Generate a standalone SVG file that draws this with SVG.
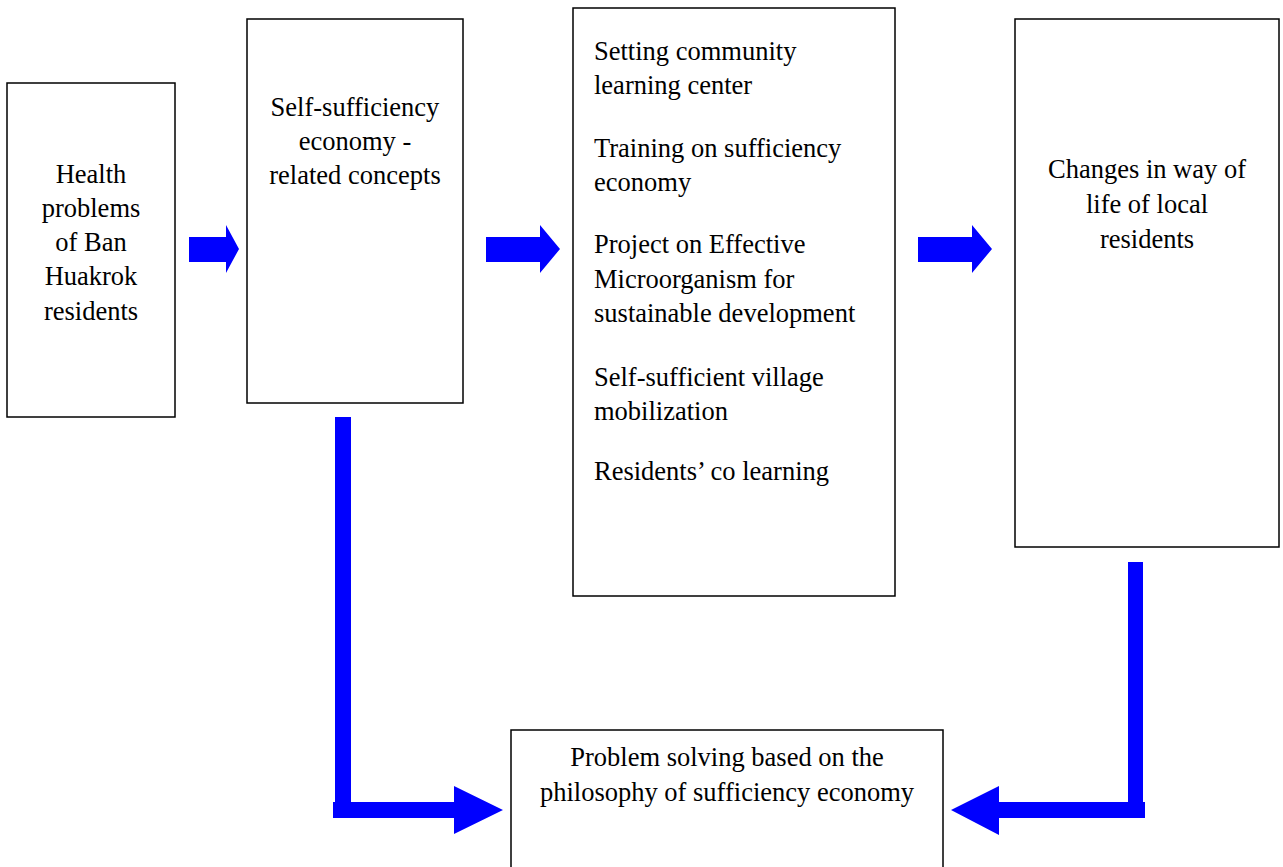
<svg xmlns="http://www.w3.org/2000/svg" width="1283" height="867" viewBox="0 0 1283 867">
<style>
.box{fill:#fff;stroke:#000;stroke-width:1.5}
.t{font-family:"Liberation Serif","Times New Roman",serif;font-size:26.5px;fill:#000}
.c{text-anchor:middle}
.arr{fill:#0000ff}
</style>
<rect width="1283" height="867" fill="#fff"/>
<g id="n1"><rect class="box" x="7" y="83" width="168" height="334"/>
<text class="t c" x="91" y="183">Health</text>
<text class="t c" x="91" y="217">problems</text>
<text class="t c" x="91" y="251">of Ban</text>
<text class="t c" x="91" y="285">Huakrok</text>
<text class="t c" x="91" y="320">residents</text></g>
<g id="n2"><rect class="box" x="247" y="19" width="216" height="384"/>
<text class="t c" x="355" y="116">Self-sufficiency</text>
<text class="t c" x="355" y="150">economy -</text>
<text class="t c" x="355" y="184">related concepts</text></g>
<g id="n3"><rect class="box" x="573" y="8" width="322" height="588"/>
<text class="t" x="594" y="60">Setting community</text>
<text class="t" x="594" y="94">learning center</text>
<text class="t" x="594" y="157">Training on sufficiency</text>
<text class="t" x="594" y="191">economy</text>
<text class="t" x="594" y="253">Project on Effective</text>
<text class="t" x="594" y="288">Microorganism for</text>
<text class="t" x="594" y="322">sustainable development</text>
<text class="t" x="594" y="386">Self-sufficient village</text>
<text class="t" x="594" y="420">mobilization</text>
<text class="t" x="594" y="480">Residents’ co learning</text></g>
<g id="n4"><rect class="box" x="1015" y="19" width="264" height="528"/>
<text class="t c" x="1147" y="178">Changes in way of</text>
<text class="t c" x="1147" y="213">life of local</text>
<text class="t c" x="1147" y="248">residents</text></g>
<g id="n5"><rect class="box" x="511" y="730" width="432" height="150"/>
<text class="t c" x="727" y="766">Problem solving based on the</text>
<text class="t c" x="727" y="801">philosophy of sufficiency economy</text></g>
<g id="connectors">
<polygon class="arr" points="189,237 226,237 226,225 239,249 226,273 226,262 189,262"/>
<polygon class="arr" points="486,237 540,237 540,225 560,249 540,273 540,262 486,262"/>
<polygon class="arr" points="918,237 972,237 972,225 992,249 972,273 972,262 918,262"/>
<rect class="arr" x="335" y="417" width="16" height="387"/>
<polygon class="arr" points="333,802 454,802 454,786 503,810 454,834 454,818 333,818"/>
<rect class="arr" x="1128" y="562" width="15" height="242"/>
<polygon class="arr" points="1145,802 999,802 999,786 951,810 999,835 999,818 1145,818"/>
</g>
</svg>
